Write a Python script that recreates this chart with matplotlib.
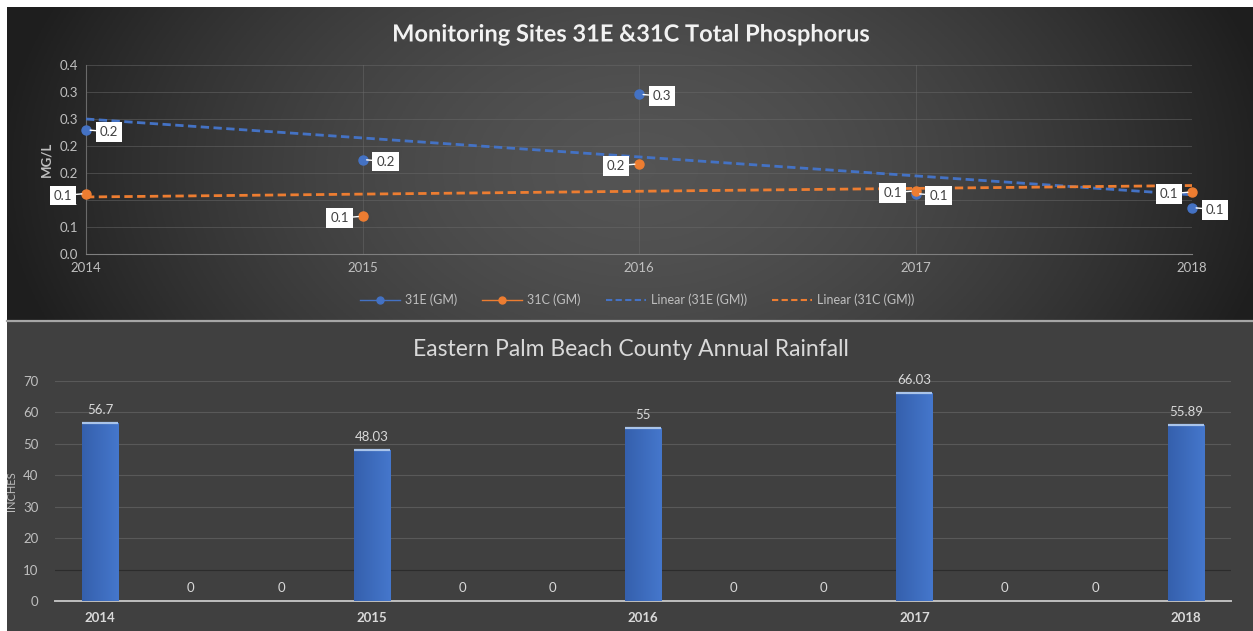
import numpy as np
import matplotlib.pyplot as plt
import matplotlib.patheffects as pe
from matplotlib.lines import Line2D
from matplotlib.patches import Rectangle
from matplotlib.colors import LinearSegmentedColormap

plt.rcParams['font.family'] = ['Lato', 'DejaVu Sans']

# --- phosphorus (geometric means, mg/L) ---
years = [2014, 2015, 2016, 2017, 2018]
tp_31e = [0.230, 0.175, 0.296, 0.112, 0.086]
tp_31c = [0.112, 0.070, 0.167, 0.117, 0.115]
tp_ticks = [0.0, 0.05, 0.10, 0.15, 0.20, 0.25, 0.30, 0.35]
tp_tick_labels = ['0.0', '0.1', '0.1', '0.2', '0.2', '0.3', '0.3', '0.4']

# --- rainfall (inches) ---
rain_cats = ['2014', '', '', '2015', '', '', '2016', '', '', '2017', '', '', '2018']
rain_vals = [56.7, 0, 0, 48.03, 0, 0, 55, 0, 0, 66.03, 0, 0, 55.89]

BLUE = '#4472C4'
ORANGE = '#ED7D31'
W, H = 1253, 631

fig = plt.figure(figsize=(W / 100, H / 100), dpi=100, facecolor='white')


def fbox(x0, y0, x1, y1):
    """pixel box (top-left origin) -> figure rect"""
    return [x0 / W, 1 - y1 / H, (x1 - x0) / W, (y1 - y0) / H]


# top panel: dark radial gradient
bg = fig.add_axes(fbox(7, 7, W, 320))
bg.set_axis_off()
gx, gy = np.meshgrid(np.linspace(7, W, 400), np.linspace(7, 320, 120))
r = np.sqrt(((gx - 640) / 640) ** 2 + ((gy - 170) / 420) ** 2)
shade = 0.33 - 0.21 * np.clip(r, 0, 1) ** 1.6
bg.imshow(np.dstack([shade] * 3), aspect='auto', extent=[0, 1, 0, 1])

# divider and bottom panel
fig.patches.append(Rectangle((7 / W, 0), 1, 1 - 320 / H, transform=fig.transFigure,
                             facecolor='#404040', edgecolor='none', zorder=-1))
fig.add_artist(Line2D([7 / W, 1], [1 - 320.5 / H] * 2, color='#a6a6a6', lw=1.6))

# ---------------- phosphorus chart ----------------
ax = fig.add_axes(fbox(86, 65, 1192, 254))
ax.set_facecolor('none')
ax.set_xlim(2014, 2018)
ax.set_ylim(0, 0.35)
ax.set_yticks(tp_ticks)
ax.set_yticklabels(tp_tick_labels)
ax.set_xticks(years)
ax.grid(True, color='#6a6a6a', lw=0.7, alpha=0.5)
ax.set_axisbelow(True)
for s in ['top', 'right']:
    ax.spines[s].set_visible(False)
ax.spines['bottom'].set_color('#7f7f7f')
ax.spines['left'].set_color('#6a6a6a')
ax.tick_params(length=0, colors='#bfbfbf', labelsize=9.5, pad=6)
ax.set_ylabel('MG/L', color='#bfbfbf', fontsize=9.5, fontweight='bold', labelpad=5)

# linear trends
xs = np.array(years, dtype=float)
for vals, col in [(tp_31e, BLUE), (tp_31c, ORANGE)]:
    k, b = np.polyfit(xs - 2014, vals, 1)
    ax.plot(xs, k * (xs - 2014) + b, color=col, lw=2, ls=(0, (3, 1.6)), zorder=3)

ax.plot(years, tp_31e, 'o', color=BLUE, ms=6.5, zorder=4, clip_on=False)
ax.plot(years, tp_31c, 'o', color=ORANGE, ms=6.5, zorder=4, clip_on=False)

box = dict(boxstyle='square,pad=0.3', fc='white', ec='none')
for vals, dx in [(tp_31e, 23), (tp_31c, -23)]:
    for x, v in zip(years, vals):
        ax.annotate(f'{v:.1f}', (x, v), xytext=(dx, -2), textcoords='offset pixels',
                    ha='center', va='center', fontsize=9.5, color='#404040', bbox=box,
                    arrowprops=dict(arrowstyle='-', color='white', lw=1,
                                    shrinkA=0, shrinkB=3),
                    zorder=5, annotation_clip=False)

handles = [
    Line2D([], [], color=BLUE, marker='o', ms=5, lw=1),
    Line2D([], [], color=ORANGE, marker='o', ms=5, lw=1),
    Line2D([], [], color=BLUE, lw=1.5, ls=(0, (3, 1.6))),
    Line2D([], [], color=ORANGE, lw=1.5, ls=(0, (3, 1.6))),
]
leg = fig.legend(handles, ['31E (GM)', '31C (GM)', 'Linear (31E (GM))', 'Linear (31C (GM))'],
                 loc='center', bbox_to_anchor=(637 / W, 1 - 300 / H), ncol=4,
                 frameon=False, fontsize=9, handlelength=3.2, columnspacing=2.0,
                 handletextpad=0.4)
for t in leg.get_texts():
    t.set_color('#bfbfbf')

fig.text(631 / W, 1 - 34 / H, 'Monitoring Sites 31E &31C Total Phosphorus',
         ha='center', va='center', fontsize=17, fontweight='bold', color='#f2f2f2',
         path_effects=[pe.withSimplePatchShadow(offset=(1.5, -1.5), alpha=0.6)])

# ---------------- rainfall chart ----------------
bx = fig.add_axes(fbox(55, 381, 1231, 601))
bx.set_facecolor('none')
pos = np.arange(len(rain_cats))
bx.set_yticks(range(0, 71, 10))
bx.set_xticks(pos)
bx.set_xticklabels(rain_cats, fontweight='bold')
for s in ['top', 'right', 'left']:
    bx.spines[s].set_visible(False)
bx.spines['bottom'].set_color('#bfbfbf')
bx.spines['bottom'].set_linewidth(1.4)
bx.tick_params(length=0, colors='#bfbfbf', labelsize=9.5)
bx.tick_params(axis='y', pad=12)
bx.tick_params(axis='x', pad=8, colors='#d9d9d9')
for yv in range(10, 71, 10):
    bx.axhline(yv, color='#2c2c2c' if yv == 10 else '#595959', lw=0.8, zorder=0)
bx.set_ylabel('INCHES', color='#bfbfbf', fontsize=8, labelpad=4)

bar_cmap = LinearSegmentedColormap.from_list('barfade', ['#3560ad', '#4577cc'])
grad = np.linspace(0, 1, 64).reshape(1, -1)
bars = bx.bar(pos, rain_vals, width=0.4, color=BLUE, zorder=2)
for rect, v in zip(bars, rain_vals):
    if v > 0:
        x0, w = rect.get_x(), rect.get_width()
        im = bx.imshow(grad, cmap=bar_cmap, aspect='auto',
                       extent=[x0, x0 + w, 0, v], zorder=3)
        im.set_clip_path(rect)
        bx.plot([x0, x0 + w], [v, v], color='#a9c4ea', lw=1.6, zorder=4,
                solid_capstyle='butt')
    bx.annotate(f'{v:g}', (rect.get_x() + rect.get_width() / 2, v), xytext=(0, 7),
                textcoords='offset pixels', ha='center', va='bottom', fontsize=9.5,
                color='#d9d9d9')
bx.set_xlim(-0.5, len(rain_cats) - 0.5)
bx.set_ylim(0, 70)

fig.text(631 / W, 1 - 350 / H, 'Eastern Palm Beach County Annual Rainfall',
         ha='center', va='center', fontsize=16.5, color='#d9d9d9')

fig.savefig('out.png', dpi=100, facecolor='white')
